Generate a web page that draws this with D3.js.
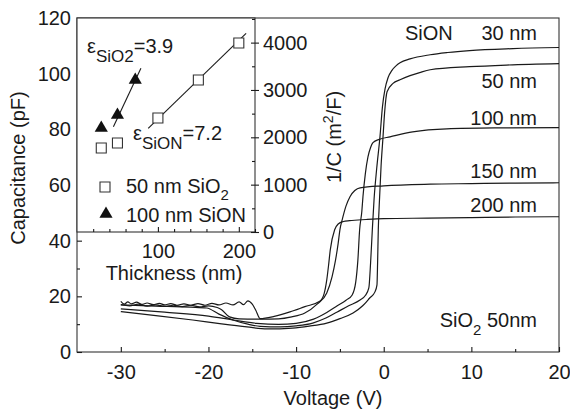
<!DOCTYPE html>
<html>
<head>
<meta charset="utf-8">
<script src="https://cdn.jsdelivr.net/npm/d3@7"></script>
<style>
  body { margin: 0; background: #fff; }
  svg text { font-family: Arial, "Liberation Sans", Helvetica, sans-serif; }
</style>
</head>
<body>
<svg id="chart" width="570" height="410"></svg>
<script>
// ---- C–V sweeps of the SiON capacitors (voltage in V, capacitance in pF) ----
const v30 = [-30, -26, -22, -20.2, -18.8, -17.2, -15.5, -14.1, -11.8, -10, -8.1, -6.6, -5.3, -4, -2.7, -2.1, -1.7, -1.5, -1.3, -1.1, -0.8, -0.43, -0.15, 0.15, 0.5, 0.94, 1.4, 1.86, 3.0, 5.3, 7.3, 9.8, 14.75, 20];
const c30 = [16.9, 16.5, 16.1, 15.8, 13.6, 11.5, 10.0, 9.2, 9.0, 9.4, 10.4, 12.2, 14.4, 16.6, 18.7, 20.3, 23, 32, 44, 55, 66, 77.3, 88, 94.5, 98.6, 101.2, 102.8, 103.9, 105.3, 106.8, 107.6, 108.3, 109.0, 109.4];

const v50 = [-30, -26, -21.8, -18.5, -15.6, -13.3, -10.4, -8.5, -6.5, -5, -3.5, -2.4, -1.6, -1.0, -0.77, -0.7, -0.62, -0.48, -0.3, -0.08, 0.1, 0.38, 1.06, 1.86, 3.0, 4.1, 5.3, 9.8, 14, 20];
const c50 = [14.5, 13.1, 11.5, 10.1, 9.0, 8.3, 8.6, 9.3, 10.4, 12.0, 14.0, 16.6, 19.4, 21.6, 24.1, 32, 44, 55, 67, 77.3, 86, 93.5, 96.5, 97.8, 99.3, 100.4, 101.4, 102.5, 103.1, 103.6];

const v100 = [-30, -25, -20, -17, -14.5, -12, -10, -8, -6.5, -5.3, -4.3, -3.6, -3.2, -2.95, -2.75, -2.5, -2.37, -2.1, -1.8, -1.5, -1.23, -0.5, 0.72, 3.3, 7.2, 13, 20];
const c100 = [15.5, 14.3, 12.9, 11.4, 10.3, 9.9, 10.3, 11.8, 14.2, 16.6, 18.6, 20.5, 25, 33, 43.9, 50.5, 55.8, 64, 70.1, 73.5, 75.2, 76.4, 77.3, 79.1, 80.2, 80.5, 80.6];

const v150 = [-30, -29, -28, -27, -26, -25, -24, -23, -22, -21, -20, -19, -18.5, -17.6, -16.5, -14, -12, -10.5, -9, -7.6, -6.5, -5.9, -5.5, -5.2, -5.0, -4.7, -4.3, -3.85, -3.3, -2.7, 0, 5.3, 10, 15, 20];
const c150 = [17.0, 16.6, 17.2, 16.5, 16.9, 16.4, 16.8, 16.3, 16.8, 16.2, 16.6, 16.0, 15.2, 12.6, 11.9, 11.8, 11.9, 12.6, 14.0, 17.2, 21.2, 27, 33, 39, 43.9, 48, 52.5, 55.8, 58, 59.0, 59.7, 60.3, 60.5, 60.7, 60.8];

const v200 = [-30, -29.6, -29.2, -28.8, -28.2, -27.6, -27.0, -26.3, -25.6, -25.0, -24.3, -23.6, -22.8, -22.0, -21.2, -20.4, -19.6, -18.8, -18.0, -17.2, -16.5, -16.0, -15.5, -15.0, -14.6, -14.1, -12.5, -10.7, -9, -7.3, -6.8, -6.5, -6.3, -6.1, -5.6, -5.2, -4.6, -3.9, -2, 0, 5, 10, 15, 20];
const c200 = [18.2, 17.2, 18.0, 17.3, 17.9, 17.1, 17.6, 17.0, 17.5, 16.9, 17.4, 16.8, 17.3, 16.8, 17.4, 16.8, 17.5, 16.9, 17.6, 16.9, 18.0, 17.0, 18.4, 17.2, 15.0, 12.0, 12.8, 14.4, 16.3, 18.2, 21, 25.9, 31, 36.7, 43.9, 46.0, 46.9, 47.2, 47.6, 47.9, 48.1, 48.3, 48.5, 48.6];

const sweepV = [v30, v50, v100, v150, v200];
const sweepC = [c30, c50, c100, c150, c200];
const sweepNames = ["30 nm", "50 nm", "100 nm", "150 nm", "200 nm"];

// ---- Inset: 1/C versus thickness ----
const sqThickness = [30, 50, 100, 150, 200];
const sqInvC = [1774, 1880, 2408, 3210, 3992];
const triThickness = [30, 50, 72];
const triInvC = [2196, 2471, 3210];
const fitSiONThickness = [88, 209];
const fitSiONInvC = [2190, 4197];
const fitSiO2Thickness = [45, 79];
const fitSiO2InvC = [2224, 3457];

// ---- Tick values ----
const xMajor = [-30, -20, -10, 0, 10, 20];
const xMinor = [-25, -15, -5, 5, 15];
const yMajor = [0, 20, 40, 60, 80, 100, 120];
const yMinor = [10, 30];
const insetXMajor = [100, 200];
const insetXMinor = [20, 40, 60, 80, 120, 140, 160, 180, 220];
const insetYMajor = [0, 1000, 2000, 3000, 4000];
const insetYMinor = [500, 1500, 2500, 3500, 4500];

const ink = "#1a1a1a";
const svg = d3.select("#chart");

// Main plot scales
const x = d3.scaleLinear().domain([-35, 20]).range([77, 559]);
const y = d3.scaleLinear().domain([0, 120]).range([352, 18]);

// Frame
svg.append("rect")
  .attr("x", x(-35)).attr("y", y(120))
  .attr("width", x(20) - x(-35)).attr("height", y(0) - y(120))
  .attr("fill", "none").attr("stroke", "#333").attr("stroke-width", 1.1);

function styleAxis(g, size) {
  g.select(".domain").remove();
  g.attr("font-size", size)
   .attr("font-family", "Arial, 'Liberation Sans', Helvetica, sans-serif")
   .attr("color", ink);
  g.selectAll("line").attr("stroke-width", 1.1);
}

// Bottom axis (ticks point into the plot)
const gx = svg.append("g").attr("transform", `translate(0,${y(0)})`)
  .call(d3.axisBottom(x).tickValues(xMajor).tickSizeInner(-5).tickSizeOuter(0)
    .tickPadding(13).tickFormat(d => String(d)));
styleAxis(gx, 20);
const gxm = svg.append("g").attr("transform", `translate(0,${y(0)})`)
  .call(d3.axisBottom(x).tickValues(xMinor).tickSizeInner(-3).tickSizeOuter(0).tickFormat(""));
styleAxis(gxm, 20);

// Left axis
const gy = svg.append("g").attr("transform", `translate(${x(-35)},0)`)
  .call(d3.axisLeft(y).tickValues(yMajor).tickSizeInner(-5).tickSizeOuter(0)
    .tickPadding(6).tickFormat(d => String(d)));
styleAxis(gy, 20);
const gym = svg.append("g").attr("transform", `translate(${x(-35)},0)`)
  .call(d3.axisLeft(y).tickValues(yMinor).tickSizeInner(-3).tickSizeOuter(0).tickFormat(""));
styleAxis(gym, 20);

// Axis titles
svg.append("text").attr("x", 333).attr("y", 405).attr("text-anchor", "middle")
  .attr("font-size", 20).attr("fill", ink).text("Voltage (V)");
svg.append("text").attr("transform", "translate(25,168) rotate(-90)")
  .attr("text-anchor", "middle").attr("font-size", 20).attr("fill", ink)
  .text("Capacitance (pF)");

// C–V curves
const line = d3.line().x(d => x(d[0])).y(d => y(d[1])).curve(d3.curveMonotoneX);
sweepV.forEach((vs, i) => {
  const pts = vs.map((v, j) => [v, sweepC[i][j]]);
  svg.append("path").datum(pts)
    .attr("d", line).attr("fill", "none")
    .attr("stroke", ink).attr("stroke-width", 1.2)
    .attr("stroke-linejoin", "round");
});

// Curve labels
const labelBaselines = [40, 88, 125, 178, 212];
sweepNames.forEach((name, i) => {
  svg.append("text").attr("x", 537).attr("y", labelBaselines[i])
    .attr("text-anchor", "end").attr("font-size", 20).attr("fill", ink).text(name);
});
svg.append("text").attr("x", 405).attr("y", 40)
  .attr("font-size", 20).attr("fill", ink).text("SiON");

const sio2Label = svg.append("text").attr("x", 537).attr("y", 327)
  .attr("text-anchor", "end").attr("font-size", 20).attr("fill", ink);
sio2Label.append("tspan").text("SiO");
sio2Label.append("tspan").attr("font-size", 15).attr("dy", 8).text("2");
sio2Label.append("tspan").attr("dy", -8).text(" 50nm");

// ---- Inset ----
const xi = d3.scaleLinear().domain([0, 220]).range([77, 255]);
const yi = d3.scaleLinear().domain([0, 4520]).range([232, 18]);

svg.append("rect")
  .attr("x", xi(0)).attr("y", yi(4520))
  .attr("width", xi(220) - xi(0)).attr("height", yi(0) - yi(4520))
  .attr("fill", "#fff").attr("stroke", "#333").attr("stroke-width", 1.1);

const gix = svg.append("g").attr("transform", `translate(0,${yi(0)})`)
  .call(d3.axisBottom(xi).tickValues(insetXMajor).tickSizeInner(-5).tickSizeOuter(0)
    .tickPadding(12).tickFormat(d => String(d)));
styleAxis(gix, 20);
const gixm = svg.append("g").attr("transform", `translate(0,${yi(0)})`)
  .call(d3.axisBottom(xi).tickValues(insetXMinor).tickSizeInner(-3).tickSizeOuter(0).tickFormat(""));
styleAxis(gixm, 20);

const giy = svg.append("g").attr("transform", `translate(${xi(220)},0)`)
  .call(d3.axisRight(yi).tickValues(insetYMajor).tickSizeInner(4).tickSizeOuter(0)
    .tickPadding(4).tickFormat(d => String(d)));
styleAxis(giy, 20);
const giyIn = svg.append("g").attr("transform", `translate(${xi(220)},0)`)
  .call(d3.axisRight(yi).tickValues(insetYMajor).tickSizeInner(-4).tickSizeOuter(0).tickFormat(""));
styleAxis(giyIn, 20);
const giym = svg.append("g").attr("transform", `translate(${xi(220)},0)`)
  .call(d3.axisRight(yi).tickValues(insetYMinor.filter(v => v <= 4520)).tickSizeInner(-3).tickSizeOuter(0).tickFormat(""));
styleAxis(giym, 20);

svg.append("text").attr("x", 174).attr("y", 280).attr("text-anchor", "middle")
  .attr("font-size", 20).attr("fill", ink).text("Thickness (nm)");

const invLabel = svg.append("text").attr("transform", "translate(341,137) rotate(-90)")
  .attr("text-anchor", "middle").attr("font-size", 20).attr("fill", ink);
invLabel.append("tspan").text("1/C  (m");
invLabel.append("tspan").attr("font-size", 14).attr("dy", -8).text("2");
invLabel.append("tspan").attr("dy", 8).text("/F)");

// Fit lines
const fitLine = d3.line().x(d => xi(d[0])).y(d => yi(d[1]));
[[fitSiONThickness, fitSiONInvC], [fitSiO2Thickness, fitSiO2InvC]].forEach(([ts, vs]) => {
  svg.append("path").datum(ts.map((t, j) => [t, vs[j]]))
    .attr("d", fitLine).attr("fill", "none").attr("stroke", ink).attr("stroke-width", 1.1);
});

// Markers
const sq = d3.symbol().type(d3.symbolSquare).size(100);
const tri = d3.symbol().type(d3.symbolTriangle).size(75);
sqThickness.forEach((t, j) => {
  svg.append("path").attr("d", sq)
    .attr("transform", `translate(${xi(t)},${yi(sqInvC[j])})`)
    .attr("fill", "#fff").attr("stroke", "#333").attr("stroke-width", 1.1);
});
triThickness.forEach((t, j) => {
  svg.append("path").attr("d", tri)
    .attr("transform", `translate(${xi(t)},${yi(triInvC[j])})`)
    .attr("fill", "#111");
});

// Permittivity annotations
function epsLabel(x0, yBase, sub, value) {
  const t = svg.append("text").attr("x", x0).attr("y", yBase)
    .attr("font-size", 20).attr("fill", ink);
  t.append("tspan").text("\u03b5");
  t.append("tspan").attr("font-size", 17).attr("dy", 9).text(sub);
  t.append("tspan").attr("dy", -9).text("=" + value);
}
epsLabel(87, 53, "SiO2", "3.9");
epsLabel(133, 140, "SiON", "7.2");

// Legend
svg.append("path").attr("d", sq).attr("transform", "translate(105,187)")
  .attr("fill", "#fff").attr("stroke", "#333").attr("stroke-width", 1.1);
const lg1 = svg.append("text").attr("x", 126).attr("y", 193)
  .attr("font-size", 20).attr("fill", ink);
lg1.append("tspan").text("50 nm SiO");
lg1.append("tspan").attr("font-size", 15).attr("dy", 7).text("2");
svg.append("path").attr("d", tri).attr("transform", "translate(106,214)").attr("fill", "#111");
svg.append("text").attr("x", 126).attr("y", 222)
  .attr("font-size", 20).attr("fill", ink).text("100 nm SiON");
</script>
</body>
</html>
